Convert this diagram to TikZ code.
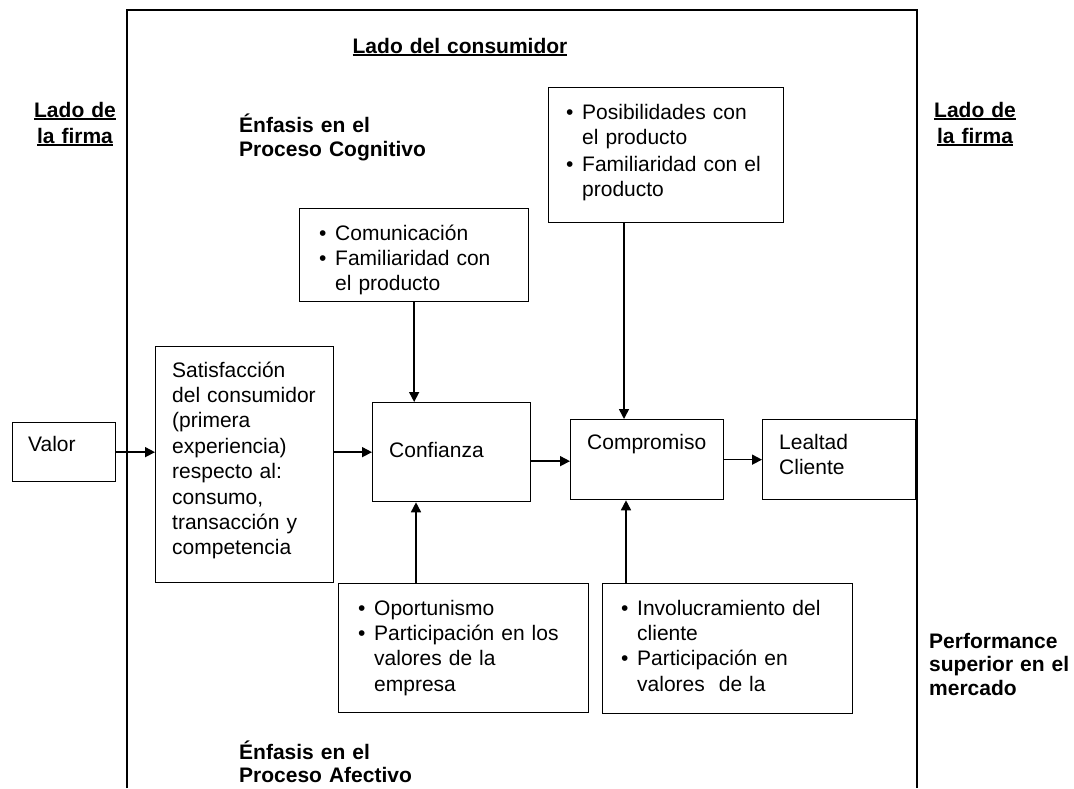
\documentclass[tikz,border=0pt]{standalone}
\usepackage{fontspec}
\setmainfont{Liberation Sans}
\usetikzlibrary{arrows.meta}

\newcommand{\ulabel}[1]{\leavevmode\setbox0=\hbox{#1}\rlap{\rule[-3pt]{\wd0}{2pt}}\box0}
\newcommand{\bitem}[1]{\makebox[16pt][l]{\textbullet}#1}
\newcommand{\bcont}{\hspace*{16pt}}

\begin{document}
\begin{tikzpicture}[x=1pt,y=-1pt,
  box/.style={draw,line width=1.3pt,anchor=north west,inner sep=0pt},
  txt/.style={anchor=base west,inner sep=0pt,text width=260pt,align=left,
    font=\fontsize{21}{25.4}\selectfont},
  bold/.style={anchor=base west,inner sep=0pt,text width=260pt,align=left,
    font=\bfseries\fontsize{21}{24}\selectfont},
  side/.style={anchor=base,inner sep=0pt,text width=240pt,align=center,
    font=\bfseries\fontsize{21}{26}\selectfont},
  arr/.style={line width=1.6pt,-{Triangle[length=10pt,width=10pt]}}]
\useasboundingbox (0,0) rectangle (1074,788);

% consumer side frame
\draw[line width=1.3pt] (127,788) -- (127,10) -- (917,10) -- (917,788);

\node[side] (lcons) at (460,53) {\ulabel{Lado del consumidor}};
\node[side] (lfirmaL) at (75,117) {\ulabel{Lado de}\\\ulabel{la firma}};
\node[side] (lfirmaR) at (975,117) {\ulabel{Lado de}\\\ulabel{la firma}};

\node[bold] (cogn) at (239,132) {Énfasis en el\\Proceso Cognitivo};
\node[bold,font=\bfseries\fontsize{21}{23.5}\selectfont] (afec) at (239,759) {Énfasis en el\\Proceso Afectivo};
\node[bold,font=\bfseries\fontsize{21}{23.5}\selectfont] (perf) at (929,648) {Performance\\superior en el\\mercado};

% boxes
\node[box,minimum width=103pt,minimum height=59pt] (valor) at (12,422) {};
\node[box,minimum width=178pt,minimum height=236pt] (sat) at (155,346) {};
\node[box,minimum width=158pt,minimum height=99pt] (conf) at (372,402) {};
\node[box,minimum width=153pt,minimum height=80pt] (comp) at (570,419) {};
\node[box,minimum width=153pt,minimum height=80pt] (leal) at (762,419) {};
\node[box,minimum width=229pt,minimum height=93pt] (comu) at (299,208) {};
\node[box,minimum width=235pt,minimum height=135pt] (posib) at (548,87) {};
\node[box,minimum width=250pt,minimum height=129pt] (opor) at (338,583) {};
\node[box,minimum width=250pt,minimum height=130pt] (invol) at (602,583) {};

% box texts
\node[txt] (valor-t) at (28,451) {Valor};
\node[txt] (sat-t) at (172,377) {Satisfacción\\del consumidor\\(primera\\experiencia)\\respecto al:\\consumo,\\transacción y\\competencia};
\node[txt] (conf-t) at (389,457) {Confianza};
\node[txt] (comp-t) at (587,449) {Compromiso};
\node[txt] (leal-t) at (779,449) {Lealtad\\Cliente};
\node[txt] (comu-t) at (319,240) {\bitem{Comunicación}\\\bitem{Familiaridad con}\\\bcont el producto};
\node[txt] (posib-t) at (566,119) {\bitem{Posibilidades con}\\\bcont el producto\\[1.5pt]\bitem{Familiaridad con el}\\\bcont producto};
\node[txt] (opor-t) at (358,615) {\bitem{Oportunismo}\\\bitem{Participación en los}\\\bcont valores de la\\\bcont empresa};
\node[txt] (invol-t) at (621,615) {\bitem{Involucramiento del}\\\bcont cliente\\\bitem{Participación en}\\\bcont valores\ \ de la};

% arrows
\draw[arr] (valor.east) -- (valor.east -| sat.west);
\draw[arr] (sat.east |- conf.west) -- (conf.west);
\draw[arr] ([yshift=-1.5pt]conf.east |- comp.west) -- ([yshift=-1.5pt]comp.west);
\draw[arr] (comp.east) -- (leal.west);
\draw[arr] (comu.south) -- (comu.south |- conf.north);
\draw[arr] ([xshift=76pt]posib.south west) -- ([xshift=54pt]comp.north west);
\draw[arr] ([xshift=78pt]opor.north west) -- ([xshift=44pt]conf.south west);
\draw[arr] ([xshift=24pt]invol.north west) -- ([xshift=56pt]comp.south west);
\end{tikzpicture}
\end{document}
